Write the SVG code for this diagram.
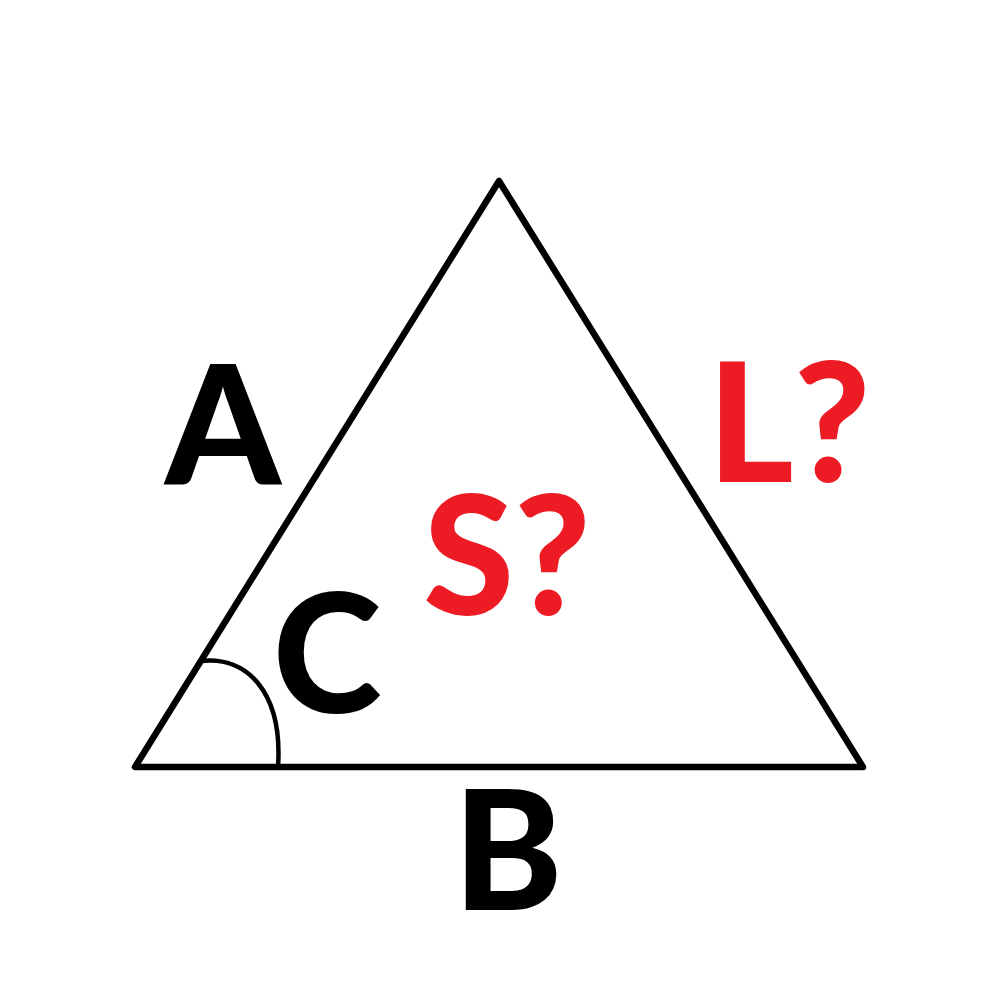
<svg xmlns="http://www.w3.org/2000/svg" width="1000" height="1001" viewBox="0 0 1000 1001">
<style>
.lbl{font-family:Lato,"Open Sans","Liberation Sans",sans-serif;font-weight:900;font-size:165px;text-anchor:middle}
.blk{fill:#000}
.red{fill:#ED1C24}
</style>
<rect width="1000" height="1001" fill="#fff"/>
<g id="triangle">
<polygon points="499,181 135,767 863,767" fill="none" stroke="#000" stroke-width="6.5" stroke-linejoin="round"/>
</g>
<g id="angle-arc">
<path d="M 201 661 C 247 656, 283 692, 278 767" fill="none" stroke="#000" stroke-width="4.5"/>
</g>
<g id="label-A"><text class="lbl blk" x="223" y="485">A</text></g>
<g id="label-B"><text class="lbl blk" x="508" y="910">B</text></g>
<g id="label-C"><text class="lbl blk" x="327" y="713">C</text></g>
<g id="label-S"><text class="lbl red" x="507" y="615">S?</text></g>
<g id="label-L"><text class="lbl red" x="789" y="482">L?</text></g>
</svg>
